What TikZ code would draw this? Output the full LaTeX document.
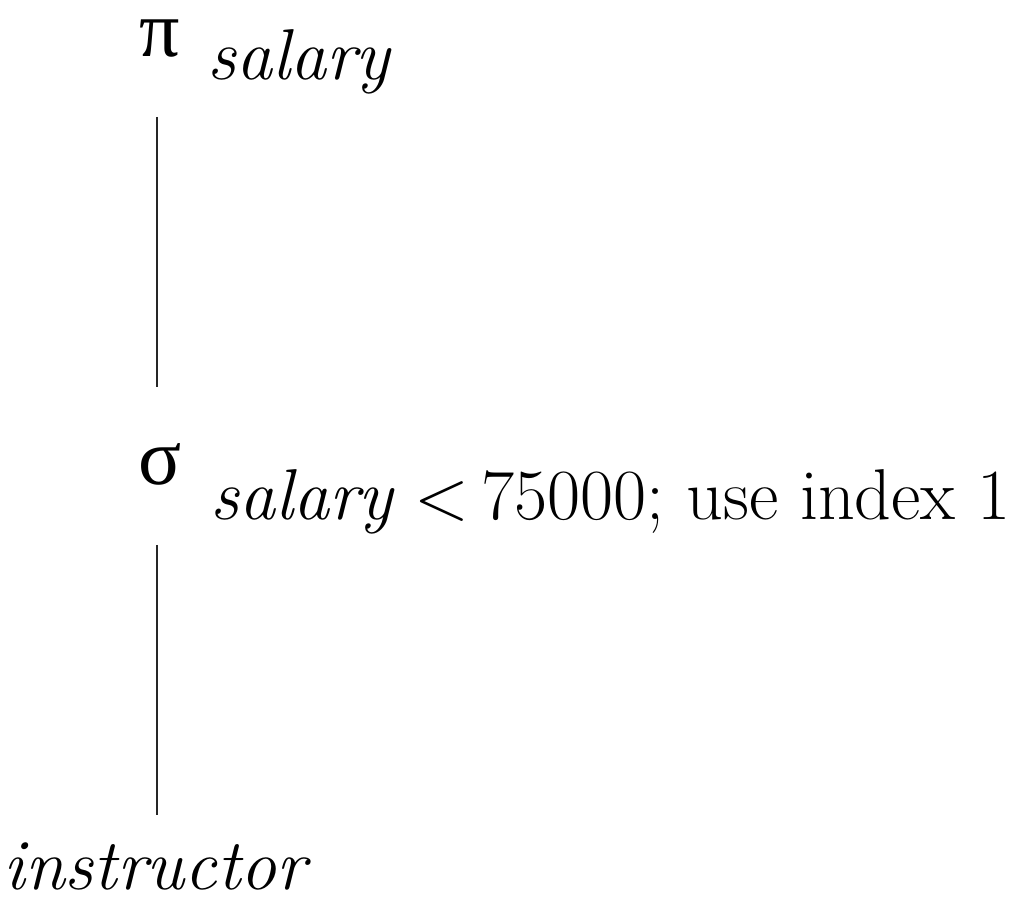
\documentclass[tikz,border=0pt]{standalone}
\usepackage{fontspec}
\newfontfamily\grk{Liberation Serif}
\begin{document}
\begin{tikzpicture}[x=1pt,y=1pt,
  lbl/.style={inner sep=0pt,font=\fontsize{72}{86}\selectfont},
  op/.style={inner sep=0pt,text height=0.5em,text depth=0pt,font=\grk\fontsize{80}{96}\selectfont},
  edge/.style={line width=2.4pt,black!85}]
\useasboundingbox (0,0) rectangle (1020,921);
\node[op,anchor=base] (pi) at (160,921-57) {π};
\node[lbl,anchor=base west] (pisub) at (207,921-80) {\itshape salary};
\node[op,anchor=base] (sigma) at (160,921-485) {σ};
\node[lbl,anchor=base west] (sigsub) at (210,921-520) {\itshape salary\upshape\ {<}\,75000; use index 1};
\node[lbl,anchor=base] (inst) at (155,921-890) {\itshape instructor};
\draw[edge] (157,921-117) coordinate (a1) -- (157,921-387) coordinate (a2);
\draw[edge] (157,921-545) coordinate (b1) -- (157,921-815) coordinate (b2);
\end{tikzpicture}
\end{document}
